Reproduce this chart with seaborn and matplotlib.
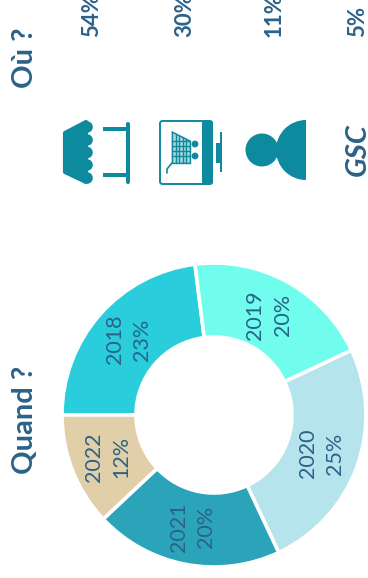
import numpy as np
import matplotlib
matplotlib.use("Agg")
import matplotlib.pyplot as plt
from matplotlib.patches import Circle, FancyBboxPatch, Rectangle, Polygon, Wedge
import seaborn as sns

years = ["2018", "2019", "2020", "2021", "2022"]
shares = [23, 20, 25, 20, 12]
year_colors = ["#29CDDB", "#70FDEE", "#B5E4EC", "#2BA3B8", "#E0CFA8"]
channel_pcts = ["54%", "30%", "11%", "5%"]
TEXT = "#2B6288"
ICON = "#0E8A9E"

sns.set_theme(style="white")
plt.rcParams["font.family"] = ["Lato", "DejaVu Sans"]

W, H = 368, 578
fig = plt.figure(figsize=(W / 100, H / 100), dpi=100, facecolor="white")

# overlay in pixel units
ov = fig.add_axes([0, 0, 1, 1], zorder=3)
ov.set_xlim(0, W)
ov.set_ylim(H, 0)
ov.axis("off")

# donut
cx, cy, R, r_in = 214, 415, 152, 78
pie_ax = fig.add_axes([(cx - R) / W, 1 - (cy + R) / H, 2 * R / W, 2 * R / H], zorder=1)
wedges, _ = pie_ax.pie(
    shares,
    colors=sns.color_palette(year_colors),
    startangle=180,
    counterclock=False,
    radius=1,
    wedgeprops=dict(width=(R - r_in) / R, edgecolor="white", linewidth=2.6),
)
pie_ax.set_xlim(-1, 1)
pie_ax.set_ylim(-1, 1)

lab_r = 114 / R
for w, y, s in zip(wedges, years, shares):
    a = np.deg2rad((w.theta1 + w.theta2) / 2)
    pie_ax.text(
        lab_r * np.cos(a), lab_r * np.sin(a), f"{y}\n{s}%",
        rotation=90, ha="center", va="center", ma="center",
        fontsize=15.5, color=TEXT, linespacing=1.45,
    )

# titles
ov.text(25, 88, "Où ?", rotation=90, ha="center", va="bottom", fontsize=21, fontweight="bold", color=TEXT)
ov.text(25, 474, "Quand ?", rotation=90, ha="center", va="bottom", fontsize=21, fontweight="bold", color=TEXT)
ov.text(358, 176, "GSC", rotation=90, ha="center", va="bottom", fontsize=21, fontweight="bold", style="italic", color=TEXT)

# channel percentages (cut by the top edge)
for x, p in zip([92, 185, 274, 358], channel_pcts):
    ov.text(x, 37, p, rotation=90, ha="center", va="bottom", fontsize=16, fontweight="bold", color=TEXT)

# stall icon
ov.add_patch(Polygon([(65, 133), (65, 172), (86, 182), (86, 122)], fc=ICON, ec=ICON, lw=3, joinstyle="round"))
for yc in [127, 140, 152.5, 165, 178]:
    ov.add_patch(Circle((87, yc), 5.8, fc=ICON, ec="none"))
ov.add_patch(Rectangle((103, 127), 25, 4, fc=ICON, ec="none"))
ov.add_patch(Rectangle((103, 173), 25, 4, fc=ICON, ec="none"))
ov.add_patch(FancyBboxPatch((126, 122), 4, 62, boxstyle="round,pad=0,rounding_size=2", fc=ICON, ec="none"))

# store / cart icon
ov.add_patch(FancyBboxPatch((160, 121), 52, 63, boxstyle="round,pad=0,rounding_size=2.5", fc="white", ec=ICON, lw=1.4))
ov.add_patch(FancyBboxPatch((202, 120.5), 11, 64, boxstyle="round,pad=0,rounding_size=2.5", fc=ICON, ec="none"))
ov.add_patch(Rectangle((216, 143), 5, 20, fc=ICON, ec="none"))
ov.add_patch(Rectangle((219.5, 132), 2, 40, fc=ICON, ec="none"))
ov.add_patch(Polygon([(172, 132), (190, 141), (190, 163), (172, 163)], fc=ICON, ec=ICON, lw=0.8, alpha=0.35))
for xg in [172, 175.5, 179, 182.5, 186, 189.5]:
    f = (xg - 172) / 17.5
    ov.plot([xg, xg], [132 + f * 9, 163], color=ICON, lw=1.0)
for yg in [141, 146, 151, 156, 163]:
    ov.plot([172, 190], [yg, yg], color=ICON, lw=1.0)
ov.plot([172, 190], [132, 141], color=ICON, lw=1.0)
ov.plot([172, 167, 167], [163, 169, 173], color=ICON, lw=1.2)
for yc in [144, 156]:
    ov.add_patch(Circle((195, yc), 3.4, fc=ICON, ec="none"))

# person icon
ov.add_patch(Circle((262, 150), 16.5, fc=ICON, ec="none"))
ov.add_patch(Wedge((306, 150), 30, 90, 270, fc=ICON, ec="none"))

fig.savefig("out.png", dpi=100, facecolor="white")
